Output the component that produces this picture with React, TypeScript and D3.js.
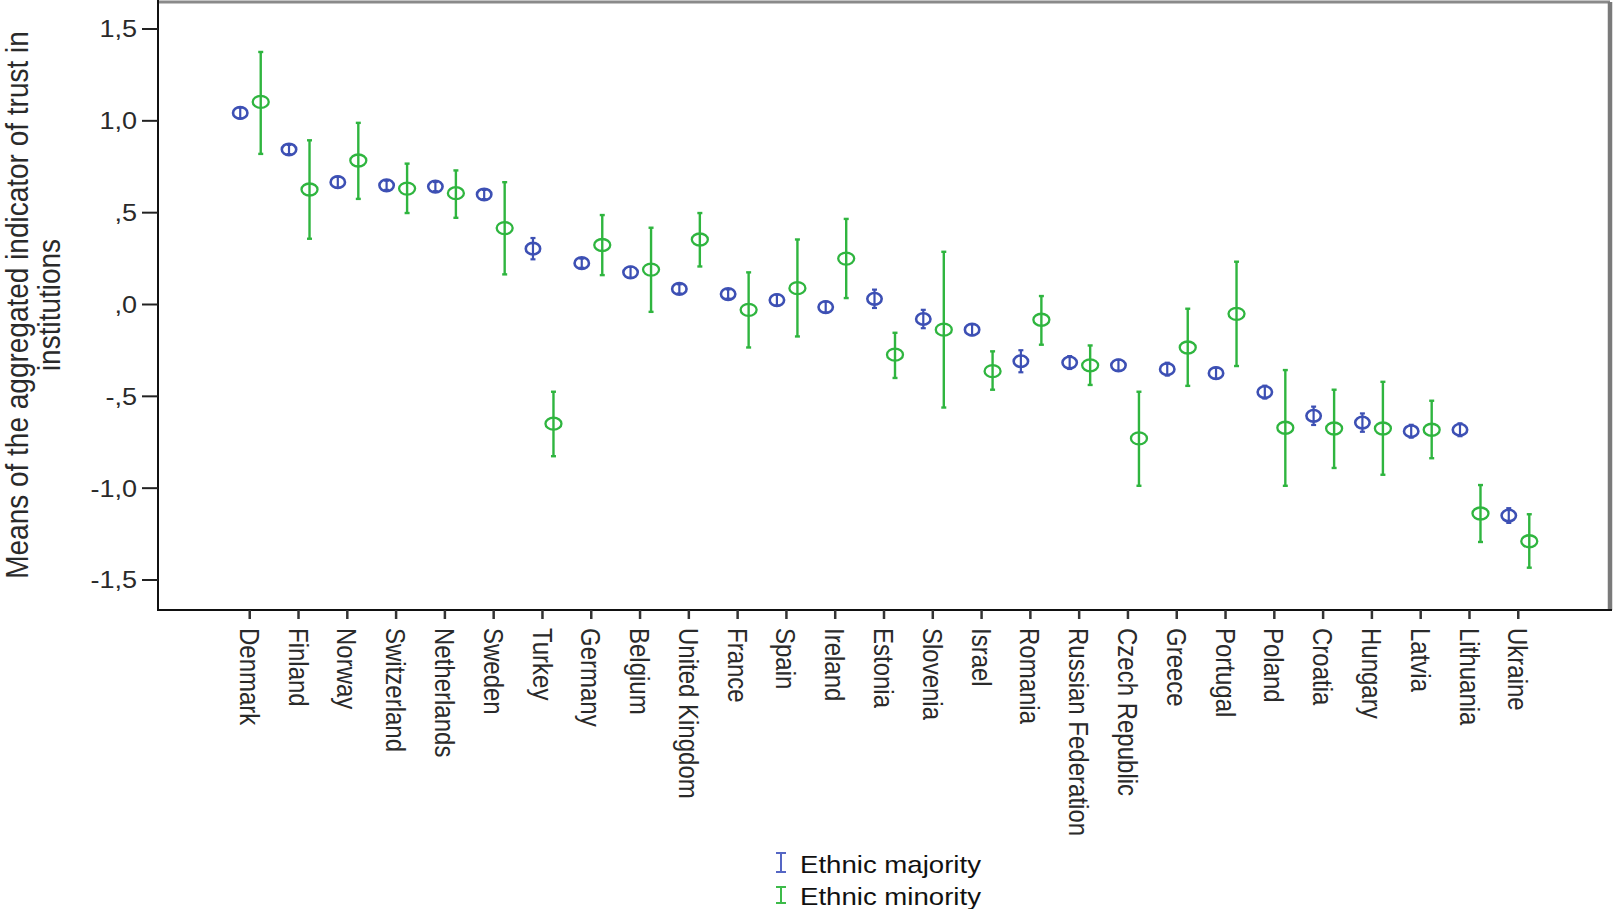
import React from "react";
import * as d3 from "d3";

const countries = [
  "Denmark", "Finland", "Norway", "Switzerland", "Netherlands", "Sweden", "Turkey",
  "Germany", "Belgium", "United Kingdom", "France", "Spain", "Ireland", "Estonia",
  "Slovenia", "Israel", "Romania", "Russian Federation", "Czech Republic", "Greece",
  "Portugal", "Poland", "Croatia", "Hungary", "Latvia", "Lithuania", "Ukraine",
];

const majorityMean = [
  1.043, 0.844, 0.666, 0.649, 0.642, 0.599, 0.304, 0.225, 0.175, 0.085, 0.057, 0.024,
  -0.014, 0.031, -0.079, -0.137, -0.309, -0.316, -0.331, -0.352, -0.374, -0.477, -0.606,
  -0.643, -0.69, -0.682, -1.149,
];
const majorityErr = [
  0.03, 0.025, 0.03, 0.025, 0.025, 0.025, 0.058, 0.025, 0.03, 0.025, 0.025, 0.03, 0.03,
  0.05, 0.05, 0.03, 0.06, 0.035, 0.03, 0.035, 0.03, 0.035, 0.05, 0.05, 0.035, 0.035, 0.04,
];

const minorityMean = [
  1.103, 0.626, 0.784, 0.631, 0.606, 0.416, -0.649, 0.324, 0.19, 0.354, -0.029, 0.089,
  0.25, -0.273, -0.137, -0.363, -0.083, -0.331, -0.729, -0.234, -0.051, -0.671, -0.675,
  -0.675, -0.682, -1.138, -1.289,
];
const minorityLow = [
  0.82, 0.358, 0.575, 0.498, 0.472, 0.164, -0.826, 0.16, -0.04, 0.207, -0.234, -0.174,
  0.035, -0.4, -0.561, -0.464, -0.219, -0.438, -0.987, -0.443, -0.335, -0.987, -0.89,
  -0.927, -0.837, -1.293, -1.433,
];
const minorityHigh = [
  1.375, 0.894, 0.989, 0.767, 0.73, 0.666, -0.475, 0.487, 0.418, 0.498, 0.175, 0.354,
  0.466, -0.154, 0.287, -0.255, 0.046, -0.223, -0.475, -0.023, 0.233, -0.357, -0.464,
  -0.421, -0.524, -0.983, -1.142,
];

const yTicks = [1.5, 1.0, 0.5, 0.0, -0.5, -1.0, -1.5];
const yTickLabels = ["1,5", "1,0", ",5", ",0", "-,5", "-1,0", "-1,5"];
const legendLabels = ["Ethnic majority", "Ethnic minority"];

const BLUE = "#3d50b4";
const GREEN = "#2fb53f";
const FONT = "'Liberation Sans', Arial, sans-serif";
const SX = 1.15;

export default function App() {
  const W = 1614;
  const H = 909;
  const left = 158;
  const right = 1610;
  const top = 2;
  const bottom = 610;

  const x = d3.scalePoint<string>().domain(countries).range([left, right]).padding(1.88);
  const y = d3.scaleLinear().domain([-1.5, 1.5]).range([580, 29]);

  const offMaj = -9.5;
  const offMin = 11;

  const errBar = (cx: number, lo: number, hi: number, color: string, key: string, w: number) => (
    <g key={key} stroke={color} strokeWidth={w} fill="none">
      <line x1={cx} x2={cx} y1={y(hi)} y2={y(lo)} />
      <line x1={cx - 2.5} x2={cx + 2.5} y1={y(hi)} y2={y(hi)} />
      <line x1={cx - 2.5} x2={cx + 2.5} y1={y(lo)} y2={y(lo)} />
    </g>
  );

  return (
    <div style={{ position: "fixed", left: 0, top: 0, width: W, height: H, background: "#fff" }}>
      <svg width={W} height={H} style={{ display: "block" }} fontFamily={FONT}>
        <rect x={0} y={0} width={W} height={H} fill="#fff" />
        {/* frame */}
        <line x1={left} x2={right} y1={top} y2={top} stroke="#8a8a8a" strokeWidth={3} />
        <line x1={right} x2={right} y1={top} y2={bottom} stroke="#7a7a7a" strokeWidth={4.5} />
        <line x1={left} x2={left} y1={0} y2={bottom} stroke="#111" strokeWidth={2} />
        <line x1={left - 1} x2={right + 2} y1={bottom} y2={bottom} stroke="#111" strokeWidth={2} />

        {/* y ticks */}
        {yTicks.map((t, i) => (
          <g key={"yt" + i}>
            <line x1={left - 16} x2={left} y1={y(t)} y2={y(t)} stroke="#222" strokeWidth={2} />
            <text
              transform={`translate(137,${y(t)}) scale(${SX},1)`}
              textAnchor="end"
              dy="0.36em"
              fontSize={23.5}
              fill="#2a2a2a"
            >
              {yTickLabels[i]}
            </text>
          </g>
        ))}

        {/* x ticks and labels */}
        {countries.map((c) => {
          const cx = x(c) as number;
          return (
            <g key={"xt" + c}>
              <line x1={cx} x2={cx} y1={bottom} y2={bottom + 9} stroke="#333" strokeWidth={2.5} />
              <text
                transform={`translate(${cx},628) scale(${SX},1) rotate(90)`}
                textAnchor="start"
                dy="0.36em"
                fontSize={24}
                fill="#2a2a2a"
              >
                {c}
              </text>
            </g>
          );
        })}

        {/* y axis title */}
        <text
          transform={`translate(28,305) scale(${SX},1) rotate(-90)`}
          textAnchor="middle"
          fontSize={28}
          fill="#2a2a2a"
        >
          Means of the aggregated indicator of trust in
        </text>
        <text
          transform={`translate(60,305) scale(${SX},1) rotate(-90)`}
          textAnchor="middle"
          fontSize={28}
          fill="#2a2a2a"
        >
          institutions
        </text>

        {/* majority */}
        {countries.map((c, i) => {
          const cx = (x(c) as number) + offMaj;
          const m = majorityMean[i];
          const e = majorityErr[i];
          return (
            <g key={"maj" + c}>
              {errBar(cx, m - e, m + e, BLUE, "mb" + c, 2.2)}
              <ellipse cx={cx} cy={y(m)} rx={7.2} ry={5.8} fill="none" stroke={BLUE} strokeWidth={2.6} />
            </g>
          );
        })}

        {/* minority */}
        {countries.map((c, i) => {
          const cx = (x(c) as number) + offMin;
          return (
            <g key={"min" + c}>
              {errBar(cx, minorityLow[i], minorityHigh[i], GREEN, "nb" + c, 2.4)}
              <ellipse cx={cx} cy={y(minorityMean[i])} rx={8} ry={6} fill="none" stroke={GREEN} strokeWidth={2.3} />
            </g>
          );
        })}

        {/* legend */}
        {legendLabels.map((l, i) => {
          const color = i === 0 ? "#5566c4" : "#3dbb4a";
          const y0 = i === 0 ? 853 : 887;
          const y1 = i === 0 ? 872 : 903;
          const base = i === 0 ? 873 : 905;
          return (
            <g key={"lg" + i}>
              <g stroke={color} strokeWidth={2}>
                <line x1={781} x2={781} y1={y0} y2={y1} />
                <line x1={776} x2={786} y1={y0} y2={y0} />
                <line x1={776} x2={786} y1={y1} y2={y1} />
              </g>
              <text transform={`translate(800,${base}) scale(${SX},1)`} fontSize={24} fill="#111">
                {l}
              </text>
            </g>
          );
        })}
      </svg>
    </div>
  );
}
